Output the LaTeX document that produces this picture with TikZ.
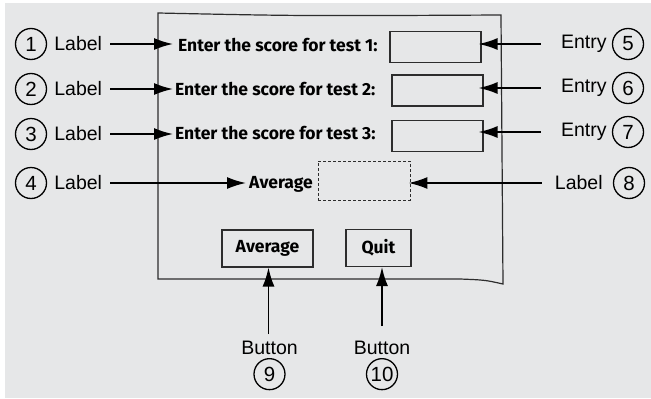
\documentclass[tikz,border=0pt]{standalone}
\usepackage{fontspec}
\setmainfont{Liberation Sans}
\newfontfamily\handfont{Fira Sans}
\usepackage{xcolor}
\usetikzlibrary{arrows.meta, positioning}
\definecolor{bggray}{RGB}{230,231,232}
\definecolor{framegray}{RGB}{45,45,45}
\tikzstyle{num} = [circle, draw=black, line width=1.3pt, minimum size=31pt, inner sep=0pt, font=\fontsize{20.5}{21}\selectfont]
\tikzstyle{tag} = [inner sep=0pt, font=\fontsize{19.5}{20}\selectfont]
\tikzstyle{formtext} = [inner sep=0pt, font=\handfont\bfseries\fontsize{17.5}{18}\selectfont]
\tikzstyle{entrybox} = [rectangle, draw=framegray, line width=1.1pt, minimum width=91pt, minimum height=31pt]
\tikzstyle{outbox} = [rectangle, draw=framegray, line width=0.9pt, densely dashed, minimum width=92pt, minimum height=39pt]
\tikzstyle{buttonbox} = [rectangle, draw=framegray, line width=1.1pt, minimum height=37pt, inner sep=0pt, font=\handfont\bfseries\fontsize{17.5}{18}\selectfont]
\tikzstyle{arrow} = [line width=1.8pt, -{Latex[length=19pt,width=12pt]}]

\begin{document}
\begin{tikzpicture}[x=1pt, y=-1pt]
    \useasboundingbox (0,0) rectangle (651,399);
    \fill[bggray] (5,3) rectangle (651,398);

    % window frame
    \draw[framegray, line width=1.2pt] (158,13) .. controls (300,16) .. (501,15) -- (503,284)
        .. controls (485,280) .. (460,279) -- (158,279) -- cycle;

    % form contents
    \node (t1) [formtext, anchor=west] at (178,45) {Enter the score for test 1:};
    \node (t2) [formtext, anchor=west] at (175,89) {Enter the score for test 2:};
    \node (t3) [formtext, anchor=west] at (175,133) {Enter the score for test 3:};
    \node (t4) [formtext, anchor=west] at (249,184) {Average};
    \node (b1) [entrybox] at (435.5,47) {};
    \node (b2) [entrybox] at (437.5,90.5) {};
    \node (b3) [entrybox] at (437.5,136) {};
    \node (b4) [outbox] at (364,180.5) {};
    \node (bavg) [buttonbox, minimum width=91pt] at (267.5,248.5) {Average};
    \node (bquit) [buttonbox, minimum width=65pt] at (378.5,248) {Quit};

    % left callouts
    \node (n1) [num] at (31,44) {1};
    \node (l1) [tag, right=7pt of n1] {Label};
    \node (n2) [num] at (31,89) {2};
    \node (l2) [tag, right=7pt of n2] {Label};
    \node (n3) [num] at (31,134) {3};
    \node (l3) [tag, right=7pt of n3] {Label};
    \node (n4) [num] at (31,183) {4};
    \node (l4) [tag, right=7pt of n4] {Label};

    % right callouts
    \node (n5) [num] at (628,44) {5};
    \node (e5) [tag, left=5pt of n5] {Entry};
    \node (n6) [num] at (628,88) {6};
    \node (e6) [tag, left=5pt of n6] {Entry};
    \node (n7) [num] at (628,132) {7};
    \node (e7) [tag, left=5pt of n7] {Entry};
    \node (n8) [num] at (629,183) {8};
    \node (l8) [tag, left=10pt of n8] {Label};

    % bottom callouts
    \node (bt9) [tag] at (269.5,348) {Button};
    \node (n9) [num, below=3pt of bt9] {9};
    \node (bt10) [tag] at (382,348) {Button};
    \node (n10) [num, below=3pt of bt10] {10};

    \draw [arrow] (l1) -- (l1 -| t1.west) [shorten <=8pt, shorten >=5pt];
    \draw [arrow] (l2) -- (l2 -| t2.west) [shorten <=8pt, shorten >=2pt];
    \draw [arrow] (l3) -- (l3 -| t3.west) [shorten <=8pt, shorten >=2pt];
    \draw [arrow] (l4) -- (l4 -| t4.west) [shorten <=8pt, shorten >=3pt];
    \draw [arrow] (e5) -- (e5 -| b1.east) [shorten <=20pt, shorten >=-3pt];
    \draw [arrow] (e6) -- (e6 -| b2.east) [shorten <=20pt, shorten >=-5pt];
    \draw [arrow] (e7) -- (e7 -| b3.east) [shorten <=20pt, shorten >=-5pt];
    \draw [arrow] (l8) -- (l8 -| b4.east) [shorten <=13pt, shorten >=-2pt];
    \draw [arrow] (bt9.north -| bavg.south) ++(1,0) coordinate (c9) (c9) -- (c9 |- bavg.south) [shorten <=7pt];
    \draw [arrow] (bt10) -- (bt10 |- bquit.south) [shorten <=15pt];
\end{tikzpicture}
\end{document}
